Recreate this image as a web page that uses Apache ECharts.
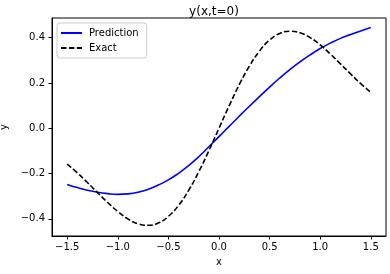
<!DOCTYPE html>
<html>
<head>
<meta charset="utf-8">
<script src="https://cdn.jsdelivr.net/npm/echarts@6/dist/echarts.min.js"></script>
<style>html,body{margin:0;padding:0;background:#fff;}#c{width:390px;height:274px;}</style>
</head>
<body>
<div id="c"></div>
<script>
const xValues = [-1.5,-1.4,-1.3,-1.2,-1.1,-1.0,-0.9,-0.8,-0.7,-0.6,-0.5,-0.4,-0.3,-0.2,-0.1,0.0,0.1,0.2,0.3,0.4,0.5,0.6,0.7,0.8,0.9,1.0,1.1,1.2,1.3,1.4,1.5];
const predictionValues = [-0.248,-0.262,-0.274,-0.283,-0.289,-0.292,-0.290,-0.283,-0.270,-0.251,-0.228,-0.199,-0.165,-0.126,-0.082,-0.037,0.008,0.053,0.097,0.140,0.182,0.222,0.259,0.293,0.324,0.352,0.376,0.397,0.414,0.430,0.445];
const exactValues = [-0.1581,-0.1972,-0.2399,-0.2843,-0.3280,-0.3679,-0.4004,-0.4218,-0.4288,-0.4186,-0.3894,-0.3409,-0.2742,-0.1922,-0.0990,0.0,0.0990,0.1922,0.2742,0.3409,0.3894,0.4186,0.4288,0.4218,0.4004,0.3679,0.3280,0.2843,0.2399,0.1972,0.1581];
const xTicks = [-1.5,-1.0,-0.5,0.0,0.5,1.0,1.5];
const yTicks = [-0.4,-0.2,0.0,0.2,0.4];
const titleText = 'y(x,t=0)';
const xName = 'x';
const yName = 'y';
const seriesNames = ['Prediction','Exact'];

const fmt = v => (v < 0 ? '\u2212' : '') + Math.abs(v).toFixed(1);
const font = 'DejaVu Sans';
const chart = echarts.init(document.getElementById('c'), null, {renderer:'canvas'});
chart.setOption({
  animation: false,
  backgroundColor: '#fff',
  title: {text: titleText, left: 209, top: 1, textAlign: 'center',
    textStyle: {fontFamily: font, fontSize: 12, fontWeight: 'normal', color: '#000'}},
  grid: {left: 52, top: 18, width: 334, height: 218, show: true, borderColor: '#000', borderWidth: 1,
    containLabel: false, outerBoundsMode: 'none'},
  legend: {
    orient: 'vertical', left: 57, top: 23, padding: [5, 8, 5, 3], itemGap: 5,
    itemWidth: 21, itemHeight: 10,
    borderColor: '#ccc', borderWidth: 1, borderRadius: 3, backgroundColor: 'rgba(255,255,255,0.8)',
    itemStyle: {opacity: 0},
    textStyle: {fontFamily: font, fontSize: 10, color: '#000', padding: [0,0,0,2]},
    data: seriesNames
  },
  xAxis: {
    type: 'value', min: -1.65, max: 1.65,
    name: xName, nameLocation: 'middle', nameGap: 21,
    nameTextStyle: {fontFamily: font, fontSize: 10, color: '#000'},
    axisLine: {show: true, onZero: false, lineStyle: {color: '#000', width: 1}},
    axisTick: {show: true, inside: false, length: 3.5, lineStyle: {color: '#000'}, customValues: xTicks},
    axisLabel: {customValues: xTicks, formatter: fmt, margin: 6, fontFamily: font, fontSize: 10, color: '#000'},
    splitLine: {show: false}
  },
  yAxis: {
    type: 'value', min: -0.476, max: 0.487,
    name: yName, nameLocation: 'middle', nameGap: 32, nameRotate: 90,
    nameTextStyle: {fontFamily: font, fontSize: 10, color: '#000'},
    axisLine: {show: true, onZero: false, lineStyle: {color: '#000', width: 1}},
    axisTick: {show: true, inside: false, length: 3.5, lineStyle: {color: '#000'}, customValues: yTicks},
    axisLabel: {customValues: yTicks, formatter: fmt, margin: 7, fontFamily: font, fontSize: 10, color: '#000'},
    splitLine: {show: false}
  },
  series: [
    {name: seriesNames[0], type: 'line', data: xValues.map((x, i) => [x, predictionValues[i]]),
     symbol: 'none', smooth: 0.5, lineStyle: {color: '#0000ff', width: 1.6}, itemStyle: {color: '#0000ff'}},
    {name: seriesNames[1], type: 'line', data: xValues.map((x, i) => [x, exactValues[i]]),
     symbol: 'none', smooth: 0.5, lineStyle: {color: '#000', width: 1.6, type: [5.5, 2.4]}, itemStyle: {color: '#000'}}
  ]
});
</script>
</body>
</html>
